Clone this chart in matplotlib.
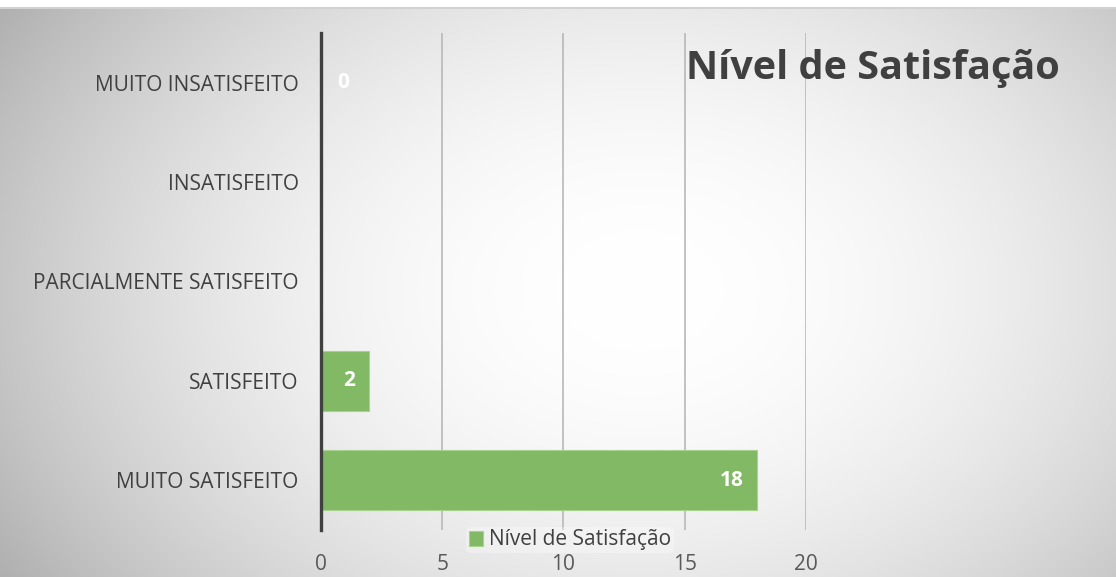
import numpy as np
import matplotlib.pyplot as plt

categorias = ["MUITO SATISFEITO", "SATISFEITO", "PARCIALMENTE SATISFEITO",
              "INSATISFEITO", "MUITO INSATISFEITO"]
valores = [18, 2, np.nan, np.nan, 0]
xticks = [0, 5, 10, 15, 20]
titulo = "Nível de Satisfação"
serie = "Nível de Satisfação"

plt.rcParams['font.family'] = ['Open Sans', 'DejaVu Sans']

fig = plt.figure(figsize=(11.16, 5.77), dpi=100)

# radial gradient background
bg = fig.add_axes([0, 0, 1, 1], zorder=-10)
w, h = 1116, 577
yy, xx = np.mgrid[0:h, 0:w]
r = np.sqrt(((xx - 640) / 700.0) ** 2 + ((yy - 290) / 500.0) ** 2)
shade = 1.0 - 0.27 * np.clip(r, 0, 1.2) ** 2.0
img = np.dstack([shade] * 3)
img[:7, :, :] = 1.0
img[7:9, :, :] = 0.82
bg.imshow(img, aspect='auto', extent=[0, 1, 0, 1], origin='upper')
bg.axis('off')

ax = fig.add_axes([0.2876, 0.0815, 0.4346, 0.8613])
ax.patch.set_alpha(0)
y = np.arange(len(categorias))
bars = ax.barh(y, np.nan_to_num(valores), height=0.6, color='#82b965',
               edgecolor='#a9d18e', linewidth=0.8, label=serie, zorder=3)

for yi, v in zip(y, valores):
    if np.isnan(v):
        continue
    if v > 0:
        ax.annotate(str(int(v)), (v, yi), xytext=(-14, 0), textcoords='offset pixels',
                    ha='right', va='center', color='white', fontsize=15,
                    fontweight='bold', zorder=5)
    else:
        ax.annotate(str(int(v)), (v, yi), xytext=(22, 0), textcoords='offset pixels',
                    ha='center', va='center', color='white', fontsize=15,
                    fontweight='bold', zorder=5)

ax.set_xlim(0, 20)
ax.set_ylim(-0.5, len(categorias) - 0.5)
ax.set_xticks(xticks)
ax.set_yticks(y)
ax.set_yticklabels(categorias)
ax.tick_params(axis='both', length=0, labelsize=15, labelcolor='#404040')
ax.tick_params(axis='x', pad=17, labelcolor='#595959')
ax.tick_params(axis='y', pad=16)
ax.grid(axis='x', color='#b8b8b8', linewidth=1.2, zorder=0)
for s in ['top', 'right', 'bottom']:
    ax.spines[s].set_visible(False)
ax.spines['left'].set_color('#404040')
ax.spines['left'].set_linewidth(2.4)
ax.spines['left'].set_zorder(4)

leg = fig.legend(loc='center', bbox_to_anchor=(570 / w, 1 - 540 / h), frameon=True,
                 fontsize=15, handlelength=0.7, handleheight=0.7, handletextpad=0.3,
                 borderpad=0.1)
leg.get_frame().set_facecolor('white')
leg.get_frame().set_alpha(0.3)
leg.get_frame().set_edgecolor('none')
for t in leg.get_texts():
    t.set_color('#404040')

fig.text(1060 / w, 1 - 69 / h, titulo, ha='right', va='center', fontsize=28.5,
         fontweight='bold', color='#404040')

fig.savefig('out.png', dpi=100)
